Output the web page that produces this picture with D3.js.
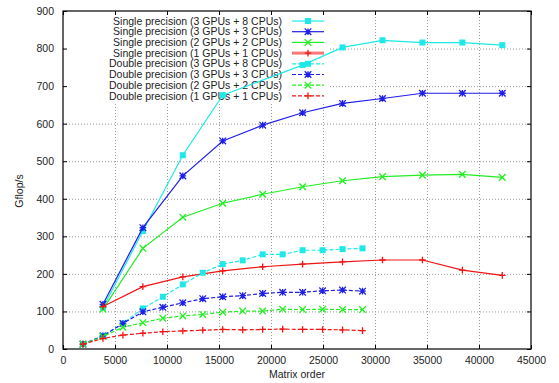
<!DOCTYPE html>
<html><head><meta charset="utf-8">
<script src="https://cdn.jsdelivr.net/npm/d3@7"></script>
<style>body{margin:0;background:#fff}svg{display:block;font-family:"Liberation Sans",Arial,sans-serif}</style>
</head><body><svg id="c" width="559" height="383"></svg>
<script>
const singleX = [3840, 7680, 11520, 15360, 19200, 23040, 26880, 30720, 34560, 38400, 42240];
const doubleX = [1920, 3840, 5760, 7680, 9600, 11520, 13440, 15360, 17280, 19200, 21120, 23040, 24960, 26880, 28800];
const sp3g8c = [110, 314, 516, 676, null, 756, 803, 822, 816, 816, 809];
const sp3g3c = [119, 323, 461, 554, 596, 629, 654, 667, 681, 681, 681];
const sp2g2c = [106, 268, 351, 388, 412, 432, 448, 459, 463, 465, 457];
const sp1g1c = [113, 166, 192, 208, 219, 226, 232, 237, 237, 210, 196];
const dp3g8c = [13, 35, 68, 108, 139, 172, 203, 226, 236, 252, 252, 263, 263, 266, 268];
const dp3g3c = [13, 35, 68, 99, 111, 123, 134, 139, 142, 148, 151, 151, 155, 157, 154];
const dp2g2c = [13, 33, 58, 70, 82, 88, 92, 98, 101, 101, 106, 105, 106, 105, 105];
const dp1g1c = [13, 28, 37, 42, 46, 48, 50, 52, 51, 52, 53, 52, 52, 51, 49];
const xTicks = [0, 5000, 10000, 15000, 20000, 25000, 30000, 35000, 40000, 45000];
const yTicks = [0, 100, 200, 300, 400, 500, 600, 700, 800, 900];
const seriesNames = [
  "Single precision (3 GPUs + 8 CPUs)", "Single precision (3 GPUs + 3 CPUs)",
  "Single precision (2 GPUs + 2 CPUs)", "Single precision (1 GPUs + 1 CPUs)",
  "Double precision (3 GPUs + 8 CPUs)", "Double precision (3 GPUs + 3 CPUs)",
  "Double precision (2 GPUs + 2 CPUs)", "Double precision (1 GPUs + 1 CPUs)"];

const colors = {cyan: "#1ee8e8", blue: "#1f1fe8", green: "#22ee22", red: "#f01414"};
const series = [
  {name: seriesNames[0], xs: singleX, ys: sp3g8c, color: colors.cyan, mk: "square", dash: null},
  {name: seriesNames[1], xs: singleX, ys: sp3g3c, color: colors.blue, mk: "star", dash: null},
  {name: seriesNames[2], xs: singleX, ys: sp2g2c, color: colors.green, mk: "x", dash: null},
  {name: seriesNames[3], xs: singleX, ys: sp1g1c, color: colors.red, mk: "plus", dash: null, thickKey: true},
  {name: seriesNames[4], xs: doubleX, ys: dp3g8c, color: colors.cyan, mk: "square", dash: "4,2"},
  {name: seriesNames[5], xs: doubleX, ys: dp3g3c, color: colors.blue, mk: "star", dash: "4,2"},
  {name: seriesNames[6], xs: doubleX, ys: dp2g2c, color: colors.green, mk: "x", dash: "4,2"},
  {name: seriesNames[7], xs: doubleX, ys: dp1g1c, color: colors.red, mk: "plus", dash: "4,2"}
];

const L = 63, R = 531, T = 11, B = 349;
const x = d3.scaleLinear().domain([0, 45000]).range([L, R]);
const y = d3.scaleLinear().domain([0, 900]).range([B, T]);
const svg = d3.select("#c");
const FS = "10.5px";

// grid
const grid = svg.append("g").attr("stroke", "#999").attr("stroke-width", 1).attr("stroke-dasharray", "1,2");
xTicks.slice(1, -1).forEach(t => grid.append("line").attr("x1", x(t) + 0.5).attr("x2", x(t) + 0.5).attr("y1", T).attr("y2", B));
yTicks.slice(1, -1).forEach(t => grid.append("line").attr("x1", L).attr("x2", R).attr("y1", y(t) + 0.5).attr("y2", y(t) + 0.5));

// opaque key box
svg.append("rect").attr("x", L + 1).attr("y", T + 1).attr("width", 329 - L).attr("height", 101 - T).attr("fill", "#fff");

// axes frame and ticks
const axB = d3.axisBottom(x).tickValues(xTicks).tickSize(-4).tickPadding(8).tickFormat(d3.format("d"));
const axT = d3.axisTop(x).tickValues(xTicks).tickSize(-4).tickFormat("");
const axL = d3.axisLeft(y).tickValues(yTicks).tickSize(-4).tickPadding(9).tickFormat(d3.format("d"));
const axR = d3.axisRight(y).tickValues(yTicks).tickSize(-4).tickFormat("");
function styleAx(g) {
  g.select(".domain").remove();
  g.selectAll("text").attr("font-size", FS).attr("font-family", "Liberation Sans, Arial, sans-serif").attr("fill", "#222");
  g.selectAll("line").attr("stroke", "#000");
}
svg.append("g").attr("transform", `translate(0,${B})`).call(axB).call(styleAx);
svg.append("g").attr("transform", `translate(0,${T})`).call(axT).call(styleAx);
svg.append("g").attr("transform", `translate(${L},0)`).call(axL).call(styleAx);
svg.append("g").attr("transform", `translate(${R},0)`).call(axR).call(styleAx);
svg.append("rect").attr("x", L).attr("y", T).attr("width", R - L).attr("height", B - T)
  .attr("fill", "none").attr("stroke", "#000").attr("stroke-width", 1.2);

// axis titles
svg.append("text").attr("x", (L + R) / 2).attr("y", 378).attr("text-anchor", "middle")
  .attr("font-size", FS).attr("fill", "#222").text("Matrix order");
svg.append("text").attr("transform", "translate(23,191) rotate(-90)").attr("text-anchor", "middle")
  .attr("font-size", FS).attr("fill", "#222").text("Gflop/s");

function marker(g, kind, cx, cy, color) {
  const s = 3.3;
  if (kind === "square") {
    g.append("rect").attr("x", cx - 3).attr("y", cy - 3).attr("width", 6).attr("height", 6).attr("fill", color);
  } else {
    const p = d3.path();
    if (kind === "plus" || kind === "star") { p.moveTo(cx - s, cy); p.lineTo(cx + s, cy); p.moveTo(cx, cy - s); p.lineTo(cx, cy + s); }
    if (kind === "x" || kind === "star") { p.moveTo(cx - s, cy - s); p.lineTo(cx + s, cy + s); p.moveTo(cx - s, cy + s); p.lineTo(cx + s, cy - s); }
    g.append("path").attr("d", p.toString()).attr("stroke", color).attr("stroke-width", 1.3).attr("fill", "none");
  }
}

// legend
const keyRows = [21, 31.7, 42.4, 53.1, 63.8, 74.5, 85.2, 95.9];
const keyG = svg.append("g");
series.forEach((s, i) => {
  const yy = keyRows[i];
  keyG.append("text").attr("x", 282).attr("y", yy).attr("dy", "0.35em").attr("text-anchor", "end")
    .attr("font-size", FS).attr("fill", "#222").text(s.name);
  keyG.append("line").attr("x1", 292).attr("x2", 324).attr("y1", yy).attr("y2", yy)
    .attr("stroke", s.thickKey ? "#f87878" : s.color).attr("stroke-width", s.thickKey ? 3 : 1.2)
    .attr("stroke-dasharray", s.dash);
  marker(keyG, s.mk, 308, yy, s.color);
});

// series
const line = d3.line().defined(d => d[1] != null).x(d => x(d[0])).y(d => y(d[1]));
series.forEach(s => {
  const pts = s.xs.map((v, i) => [v, s.ys[i]]);
  const g = svg.append("g");
  g.append("path").attr("d", line(pts.filter(d => d[1] != null))).attr("fill", "none")
    .attr("stroke", s.color).attr("stroke-width", 1.2).attr("stroke-dasharray", s.dash);
  pts.filter(d => d[1] != null).forEach(d => marker(g, s.mk, x(d[0]), y(d[1]), s.color));
});
</script></body></html>
